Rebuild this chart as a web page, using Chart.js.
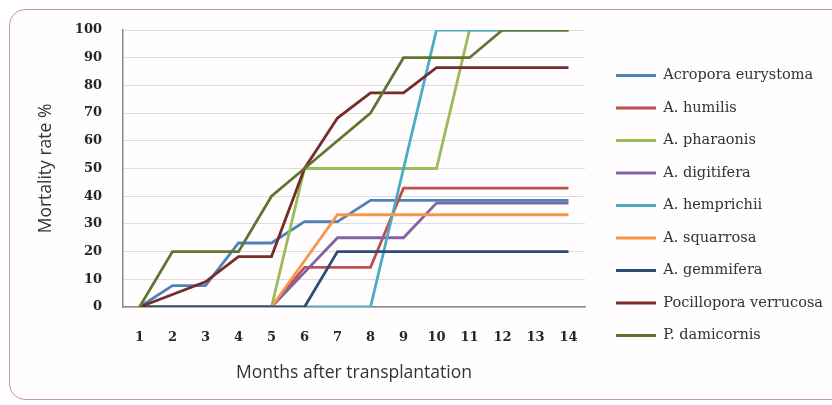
<!DOCTYPE html>
<html>
<head>
<meta charset="utf-8">
<script src="https://cdn.jsdelivr.net/npm/chart.js@4.4.1/dist/chart.umd.min.js"></script>
<style>
  html, body { margin: 0; padding: 0; background: #ffffff; }
  #wrap { position: relative; width: 832px; height: 405px; overflow: hidden; }
  #frame {
    position: absolute; left: 9px; top: 9px; width: 850px; height: 389px;
    border: 1.5px solid #c99a9a; border-radius: 16px; background: #fffdfd;
  }
  #chart { position: absolute; left: 0; top: 0; }
</style>
</head>
<body>
<div id="wrap">
  <div id="frame"></div>
  <canvas id="chart" width="832" height="405"></canvas>
</div>
<script>
// Months after transplantation
const months = ['1', '2', '3', '4', '5', '6', '7', '8', '9', '10', '11', '12', '13', '14'];

// Cumulative mortality (%) per species
const acroporaEurystoma    = [0, 7.7, 7.7, 23.1, 23.1, 30.8, 30.8, 38.5, 38.5, 38.5, 38.5, 38.5, 38.5, 38.5];
const aHumilis             = [0, 0, 0, 0, 0, 14.3, 14.3, 14.3, 42.9, 42.9, 42.9, 42.9, 42.9, 42.9];
const aPharaonis           = [0, 0, 0, 0, 0, 50, 50, 50, 50, 50, 100, 100, 100, 100];
const aDigitifera          = [0, 0, 0, 0, 0, 12.5, 25, 25, 25, 37.5, 37.5, 37.5, 37.5, 37.5];
const aHemprichii          = [0, 0, 0, 0, 0, 0, 0, 0, 50, 100, 100, 100, 100, 100];
const aSquarrosa           = [0, 0, 0, 0, 0, 16.7, 33.3, 33.3, 33.3, 33.3, 33.3, 33.3, 33.3, 33.3];
const aGemmifera           = [0, 0, 0, 0, 0, 0, 20, 20, 20, 20, 20, 20, 20, 20];
const pocilloporaVerrucosa = [0, 4.5, 9.1, 18.2, 18.2, 50, 68.2, 77.3, 77.3, 86.4, 86.4, 86.4, 86.4, 86.4];
const pDamicornis          = [0, 20, 20, 20, 40, 50, 60, 70, 90, 90, 90, 100, 100, 100];

const seriesNames = [
  'Acropora eurystoma', 'A. humilis', 'A. pharaonis', 'A. digitifera', 'A. hemprichii',
  'A. squarrosa', 'A. gemmifera', 'Pocillopora verrucosa', 'P. damicornis'
];
const seriesValues = [
  acroporaEurystoma, aHumilis, aPharaonis, aDigitifera, aHemprichii,
  aSquarrosa, aGemmifera, pocilloporaVerrucosa, pDamicornis
];
const seriesColors = [
  '#4f81bd', '#c0504d', '#9bbb59', '#8064a2', '#4bacc6',
  '#f79646', '#2c4d75', '#772c2a', '#5f7530'
];

const yTicks = [0, 10, 20, 30, 40, 50, 60, 70, 80, 90, 100];

const datasets = seriesNames.map((name, i) => ({
  label: name,
  data: seriesValues[i],
  borderColor: seriesColors[i],
  backgroundColor: seriesColors[i],
  borderWidth: 2.8,
  pointRadius: 0,
  pointHoverRadius: 0,
  tension: 0,
  fill: false,
  // later series are painted over earlier ones
  order: seriesNames.length - i
}));

const tickFont = { family: 'DejaVu Serif', size: 13, weight: 'bold' };
const titleFont = { family: 'Open Sans', size: 17.5 };
const axisGrey = '#8a8a8a';

new Chart(document.getElementById('chart'), {
  type: 'line',
  data: { labels: months, datasets },
  options: {
    responsive: false,
    animation: false,
    devicePixelRatio: 1,
    layout: { padding: { left: 10, right: 0, top: 30, bottom: 24 } },
    plugins: {
      tooltip: { enabled: false },
      legend: {
        position: 'right',
        align: 'center',
        maxWidth: 234,
        labels: {
          usePointStyle: true,
          pointStyle: 'line',
          pointStyleWidth: 40,
          padding: 18,
          color: '#333333',
          font: { family: 'DejaVu Serif', size: 14.5 },
          // keep legend entries in series order
          sort: (a, b) => a.datasetIndex - b.datasetIndex
        }
      }
    },
    scales: {
      x: {
        offset: true,
        grid: { display: false },
        border: { display: true, color: axisGrey, width: 1.5 },
        ticks: { color: '#262626', font: tickFont, padding: 15, maxRotation: 0, autoSkip: false },
        title: {
          display: true,
          text: 'Months after transplantation',
          color: '#333333',
          font: titleFont,
          padding: { top: 0, bottom: -3 }
        },
        afterFit: (s) => { s.height = 405 - 24 - 307; }
      },
      y: {
        min: 0,
        max: 100,
        afterBuildTicks: (s) => { s.ticks = yTicks.map(v => ({ value: v })); },
        grid: { color: '#dcdcdc', lineWidth: 1, drawTicks: false },
        border: { display: true, color: axisGrey, width: 1.5 },
        ticks: { color: '#262626', font: tickFont, padding: 21 },
        title: {
          display: true,
          text: 'Mortality rate %',
          color: '#333333',
          font: titleFont,
          padding: { top: 26, bottom: 0 }
        },
        afterFit: (s) => { s.width = 123 - 10; }
      },
      gap: {
        type: 'linear',
        position: 'right',
        display: true,
        grid: { display: false, drawTicks: false },
        border: { display: false },
        ticks: { display: false },
        afterFit: (s) => { s.width = 13; }
      }
    }
  }
});
</script>
</body>
</html>
